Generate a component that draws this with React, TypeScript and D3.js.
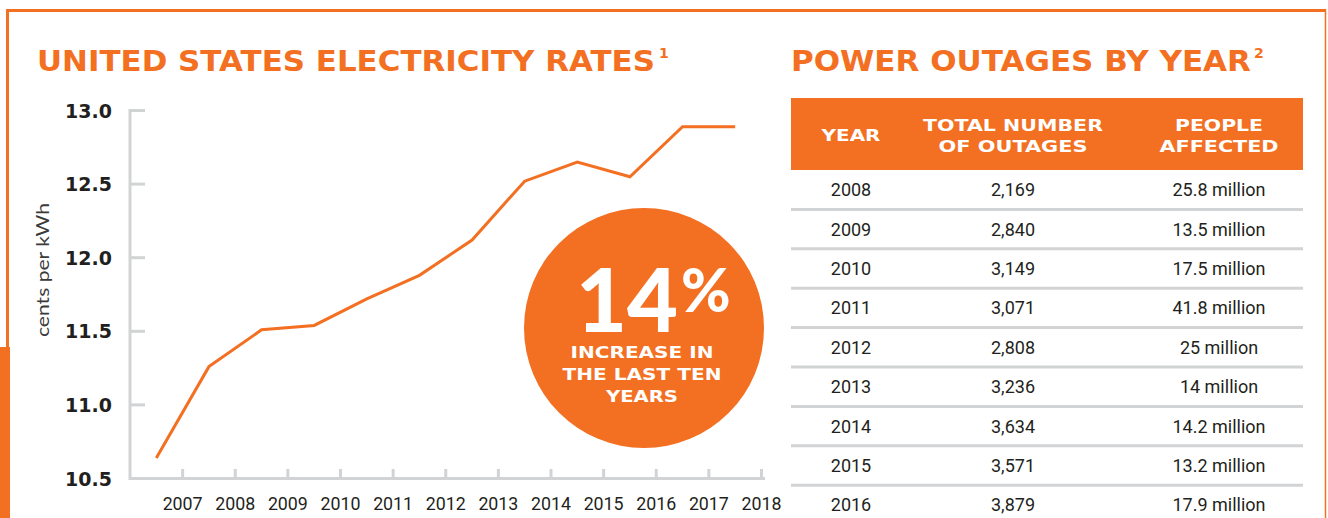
import React from 'react'
import * as d3 from 'd3'

// electricity rates, cents per kWh
const rateYears = [2007, 2008, 2009, 2010, 2011, 2012, 2013, 2014, 2015, 2016, 2017, 2018]
const rateValues = [10.64, 11.26, 11.51, 11.54, 11.72, 11.88, 12.12, 12.52, 12.65, 12.55, 12.89, 12.89]
const yTicks = [10.5, 11.0, 11.5, 12.0, 12.5, 13.0]
const xTickLabels = ['2007', '2008', '2009', '2010', '2011', '2012', '2013', '2014', '2015', '2016', '2017', '2018']

// outages table
const outageYears = ['2008', '2009', '2010', '2011', '2012', '2013', '2014', '2015', '2016']
const outageCounts = ['2,169', '2,840', '3,149', '3,071', '2,808', '3,236', '3,634', '3,571', '3,879']
const peopleAffected = ['25.8 million', '13.5 million', '17.5 million', '41.8 million', '25 million', '14 million', '14.2 million', '13.2 million', '17.9 million']
const headerLines = [['YEAR'], ['TOTAL NUMBER', 'OF OUTAGES'], ['PEOPLE', 'AFFECTED']]
const headerWidths = [[59], [180, 149], [88, 119]]

const ORANGE = '#F36F21'
const GRAY = '#D1D3D4'
const INK = '#231F20'
const HEAVY = 'DejaVu Sans'

export default function App() {
  const width = 1328,
    height = 518

  const xScale = d3.scaleLinear().domain([2006, 2018]).range([130, 761.5])
  const yScale = d3.scaleLinear().domain([10.5, 13]).range([478.5, 110.5])

  const line = d3.line<number>()
    .x((d, i) => xScale(rateYears[i] - 0.5))
    .y(d => yScale(d))

  const rowScale = d3.scaleBand().domain(outageYears).range([170, 170 + 39.4 * outageYears.length])
  const colX = [851, 1013, 1219]
  const tableLeft = 791,
    tableRight = 1303

  return (
    <svg width={width} height={height} style={{position: 'absolute', left: 0, top: 0}}>
      {/* frame */}
      <line x1={6} y1={10.5} x2={1326} y2={10.5} stroke={ORANGE} strokeWidth={3} />
      <line x1={7.5} y1={9} x2={7.5} y2={348} stroke={ORANGE} strokeWidth={3} />
      <rect x={0} y={347} width={10} height={height - 347} fill={ORANGE} />
      <line x1={1325.5} y1={9} x2={1325.5} y2={height} stroke={ORANGE} strokeWidth={1.5} />

      {/* titles */}
      <text x={37} y={71} fill={ORANGE} fontFamily={HEAVY} fontWeight="bold" fontSize={29}
        textLength={618} lengthAdjust="spacingAndGlyphs">UNITED STATES ELECTRICITY RATES</text>
      <text x={659} y={58} fill={ORANGE} fontFamily={HEAVY} fontWeight="bold" fontSize={14}>1</text>
      <text x={791} y={71} fill={ORANGE} fontFamily={HEAVY} fontWeight="bold" fontSize={29}
        textLength={460} lengthAdjust="spacingAndGlyphs">POWER OUTAGES BY YEAR</text>
      <text x={1254} y={58} fill={ORANGE} fontFamily={HEAVY} fontWeight="bold" fontSize={14}>2</text>

      {/* y axis */}
      <line x1={130} y1={yScale(13) - 1.5} x2={130} y2={yScale(10.5) + 1.5} stroke={GRAY} strokeWidth={3} />
      {yTicks.map((t, i) => (
        <g key={i}>
          <line x1={130} y1={yScale(t)} x2={145} y2={yScale(t)} stroke={GRAY} strokeWidth={3} />
          <text x={112} y={yScale(t) + 7} textAnchor="end" fill={INK} fontFamily={HEAVY}
            fontWeight="bold" fontSize={19}>{d3.format('.1f')(t)}</text>
        </g>
      ))}
      <text transform="translate(49,270) rotate(-90)" textAnchor="middle" fill="#3A3A3C"
        fontFamily="Lato" fontWeight={400} fontSize={17} textLength={134} lengthAdjust="spacingAndGlyphs">cents per kWh</text>

      {/* x axis */}
      <line x1={130} y1={478.5} x2={765} y2={478.5} stroke={GRAY} strokeWidth={3} />
      {xTickLabels.map(lab => {
        const x = xScale(+lab)
        return (
          <g key={lab}>
            <line x1={x} y1={478} x2={x} y2={469} stroke={GRAY} strokeWidth={3} />
            <text x={x} y={510} textAnchor="middle" fill={INK} fontFamily="Roboto" fontSize={18}
              textLength={40} lengthAdjust="spacingAndGlyphs">{lab}</text>
          </g>
        )
      })}

      {/* rate line */}
      <path d={line(rateValues) || ''} fill="none" stroke={ORANGE} strokeWidth={3} strokeLinejoin="miter" />

      {/* badge */}
      <circle cx={644} cy={328} r={120} fill={ORANGE} />
      <text x={678} y={332} textAnchor="end" fill="#fff" fontFamily="Lato" fontWeight={900} fontSize={88}>14</text>
      <text x={681} y={312} fill="#fff" fontFamily="Lato" fontWeight={900} fontSize={60}>%</text>
      {[['INCREASE IN', 358, 143], ['THE LAST TEN', 380, 159], ['YEARS', 402, 72]].map(([s, y, w]) => (
        <text key={s as string} x={642} y={y as number} textAnchor="middle" fill="#fff" fontFamily={HEAVY}
          fontWeight="bold" fontSize={16} textLength={w as number} lengthAdjust="spacingAndGlyphs">{s}</text>
      ))}

      {/* table header */}
      <rect x={tableLeft} y={98} width={tableRight - tableLeft} height={72} fill={ORANGE} />
      {headerLines.map((lines, c) => lines.map((s, j) => {
        const y = lines.length === 1 ? 141 : 131 + j * 21
        return (
          <text key={s} x={colX[c]} y={y} textAnchor="middle" fill="#fff" fontFamily={HEAVY}
            fontWeight="bold" fontSize={16} textLength={headerWidths[c][j]} lengthAdjust="spacingAndGlyphs">{s}</text>
        )
      }))}

      {/* table rows */}
      {outageYears.map((yr, i) => {
        const y0 = rowScale(yr) as number
        const mid = y0 + rowScale.bandwidth() / 2
        return (
          <g key={yr}>
            {[yr, outageCounts[i], peopleAffected[i]].map((v, c) => (
              <text key={c} x={colX[c]} y={mid + 6.5} textAnchor="middle" fill={INK}
                fontFamily="Roboto" fontSize={18}>{v}</text>
            ))}
            {i < outageYears.length - 1 && (
              <line x1={tableLeft} y1={y0 + rowScale.bandwidth()} x2={tableRight}
                y2={y0 + rowScale.bandwidth()} stroke={GRAY} strokeWidth={3} />
            )}
          </g>
        )
      })}
    </svg>
  )
}
